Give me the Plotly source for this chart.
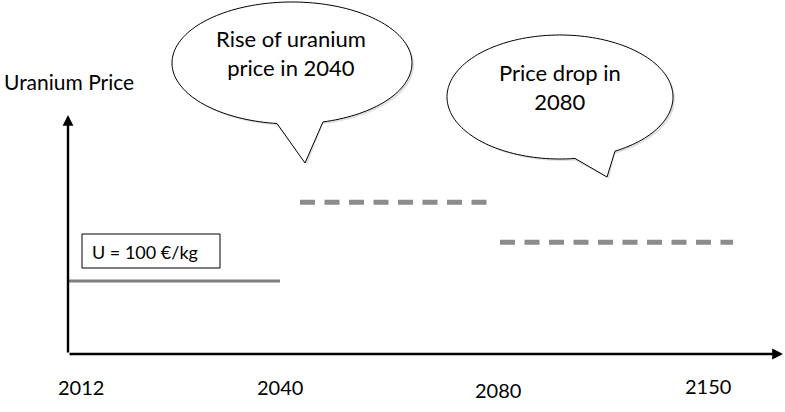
import numpy as np
import plotly.graph_objects as go

# ---- data (schematic) ----
years = ["2012", "2040", "2080", "2150"]
year_pos = [13, 212, 430, 640]          # position of each year along the schematic time axis
seg_start = [0, 232, 432]               # start of each price period (time-axis units)
seg_end = [212, 419, 665]               # end of each price period
seg_price = [100, 208, 153]             # schematic uranium price level (€/kg)
seg_names = ["Base price", "Rise of uranium price in 2040", "Price drop in 2080"]
base_label = "U = 100 €/kg"
y_title = "Uranium Price"
bubble_texts = ["Rise of uranium<br>price in 2040", "Price drop in<br>2080"]

W, H = 785, 412
X0 = 68      # pixel of time-axis origin
Y0 = 354     # pixel of price-axis origin
K = 0.73     # pixels per price unit

x_range = [-X0, W - X0]
y_range = [(Y0 - H) / K, Y0 / K]

FONT = "Lato, 'Open Sans', sans-serif"

fig = go.Figure()

styles = [
    dict(color="#7f7f7f", width=3, dash="solid"),
    dict(color="#8c8c8c", width=5, dash="15px,9.5px"),
    dict(color="#8c8c8c", width=5, dash="15px,9.5px"),
]
for s, e, p, n, st in zip(seg_start, seg_end, seg_price, seg_names, styles):
    fig.add_trace(go.Scatter(x=[s, e], y=[p, p], mode="lines", name=n,
                             line=st, hoverinfo="skip", showlegend=False))


def px2paper(x, y):
    return x / W, 1 - y / H


def bubble_path(cx, cy, rx, ry, b1x, b2x, tip):
    t1 = np.arccos((b1x - cx) / rx)
    t2 = np.arccos((b2x - cx) / rx)
    ts = np.linspace(t1, t2 + 2 * np.pi, 160)
    pts = [(cx + rx * np.cos(t), cy + ry * np.sin(t)) for t in ts]
    pts.append(tip)
    out = []
    for i, (x, y) in enumerate(pts):
        X, Y = px2paper(x, y)
        out.append(("M" if i == 0 else "L") + f"{X:.5f},{Y:.5f}")
    return " ".join(out) + " Z"


shapes = []
bubbles = [
    dict(cx=292, cy=63, rx=120, ry=61, b1x=277, b2x=323, tip=(305, 163)),
    dict(cx=560, cy=97, rx=113, ry=62, b1x=575, b2x=615, tip=(607, 177)),
]
for b in bubbles:
    # soft shadow
    sh = dict(b)
    sh["cx"] += 2
    sh["cy"] += 2
    sh["tip"] = (b["tip"][0] + 2, b["tip"][1] + 2)
    shapes.append(dict(type="path", xref="paper", yref="paper",
                       path=bubble_path(**sh), fillcolor="rgba(0,0,0,0.12)",
                       line=dict(width=0), layer="above"))
    shapes.append(dict(type="path", xref="paper", yref="paper",
                       path=bubble_path(**b), fillcolor="white",
                       line=dict(color="black", width=1), layer="above"))

# box around base price label
bx0, by0 = px2paper(82, 234)
bx1, by1 = px2paper(220, 268)
shapes.append(dict(type="rect", xref="paper", yref="paper", x0=bx0, y0=by1, x1=bx1, y1=by0,
                   line=dict(color="black", width=1), fillcolor="white", layer="below"))

annotations = []
# axes as arrows
annotations.append(dict(x=0, y=(Y0 - 115) / K, ax=0, ay=0, xref="x", yref="y", axref="x", ayref="y",
                        showarrow=True, arrowhead=2, arrowsize=0.9, arrowwidth=2.4,
                        arrowcolor="black", text=""))
annotations.append(dict(x=W - X0 - 2, y=0, ax=0, ay=0, xref="x", yref="y", axref="x", ayref="y",
                        showarrow=True, arrowhead=2, arrowsize=0.9, arrowwidth=2.4,
                        arrowcolor="black", text=""))

# year labels
year_shift = [0, 0, -3, 1]
for yr, pos, ys in zip(years, year_pos, year_shift):
    annotations.append(dict(x=pos, y=(Y0 - 387) / K, xref="x", yref="y", text=yr,
                            showarrow=False, yshift=ys,
                            font=dict(family=FONT, size=20, color="black")))

# axis title
annotations.append(dict(x=2 / W, y=1 - 81 / H, xref="paper", yref="paper", text=y_title,
                        showarrow=False, xanchor="left", yanchor="middle",
                        font=dict(family=FONT, size=21, color="black")))

# base price label
annotations.append(dict(x=90 / W, y=1 - 252 / H, xref="paper", yref="paper", text=base_label,
                        showarrow=False, xanchor="left", yanchor="middle",
                        font=dict(family=FONT, size=18, color="black")))

# bubble texts
for (tx, ty), t in zip([(291, 53), (560, 87)], bubble_texts):
    X, Y = px2paper(tx, ty)
    annotations.append(dict(x=X, y=Y, xref="paper", yref="paper", text=t,
                            showarrow=False, xanchor="center", yanchor="middle",
                            font=dict(family=FONT, size=22, color="black")))

fig.update_layout(
    width=W, height=H,
    margin=dict(l=0, r=0, t=0, b=0),
    paper_bgcolor="white", plot_bgcolor="white",
    xaxis=dict(range=x_range, visible=False, fixedrange=True),
    yaxis=dict(range=y_range, visible=False, fixedrange=True),
    shapes=shapes, annotations=annotations,
    showlegend=False,
)

fig.write_html("out.html")
